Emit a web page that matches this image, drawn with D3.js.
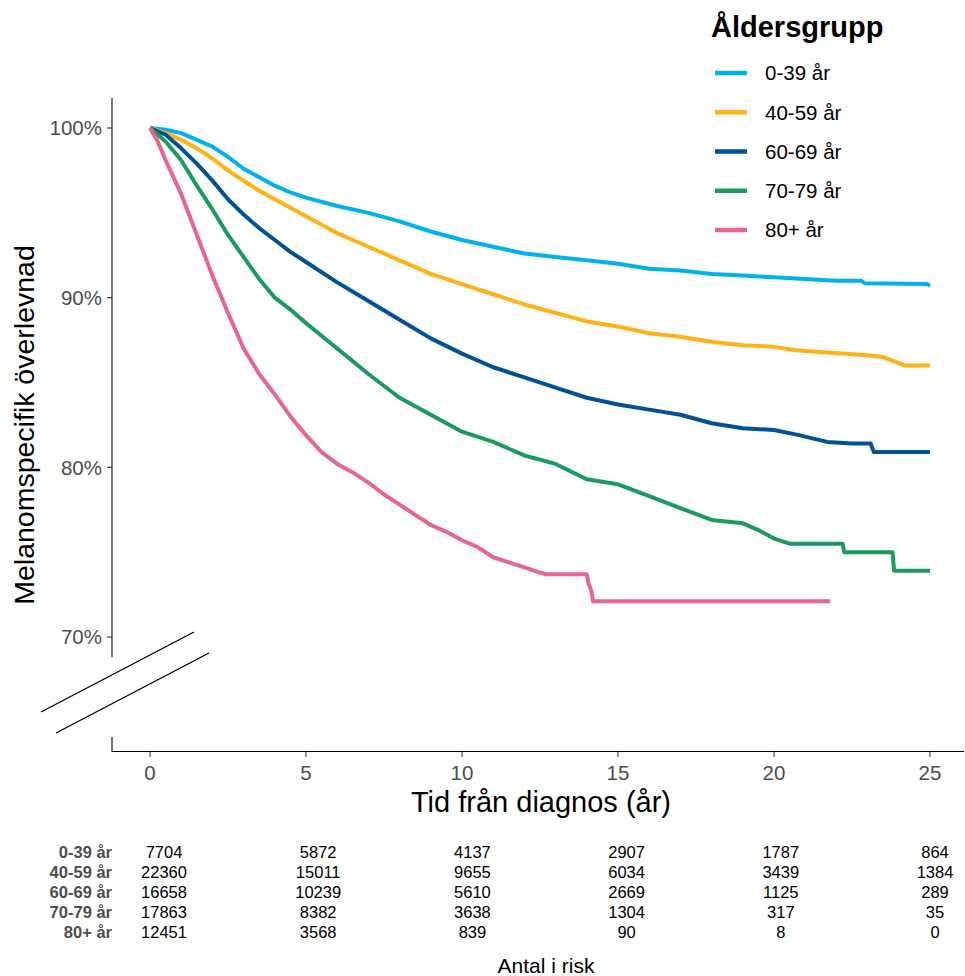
<!DOCTYPE html>
<html>
<head>
<meta charset="utf-8">
<script src="https://cdn.jsdelivr.net/npm/d3@7"></script>
<style>
  html, body { margin: 0; padding: 0; background: #fff; }
  svg { display: block; }
  text { font-family: "Liberation Sans", Arial, Helvetica, sans-serif; }
</style>
</head>
<body>
<svg id="chart" width="965" height="976"></svg>
<script>
// ---------------- DATA ----------------
const groups = ["0-39 år", "40-59 år", "60-69 år", "70-79 år", "80+ år"];
const colors = ["#00b1f0", "#ffb115", "#005195", "#1b9a5f", "#e8668a"];

const surv_0_39 = [[0,100],[0.5,99.9],[1,99.7],[1.5,99.3],[2,98.9],[2.5,98.3],[3,97.6],[3.5,97.1],[4,96.6],[4.5,96.2],[5,95.9],[6,95.4],[7,95.0],[8,94.5],[9,93.9],[10,93.4],[11,93.0],[12,92.6],[13,92.4],[14,92.2],[15,92.0],[16,91.7],[17,91.6],[18,91.4],[19,91.3],[20,91.2],[21,91.1],[22,91.0],[22.8,91.0],[22.9,90.85],[24.9,90.8],[25,90.7]];
const surv_40_59 = [[0,100],[0.5,99.7],[1,99.3],[1.5,98.8],[2,98.2],[2.5,97.5],[3,96.9],[3.5,96.3],[4,95.8],[4.5,95.3],[5,94.8],[6,93.8],[7,93.0],[8,92.2],[9,91.4],[10,90.8],[11,90.2],[12,89.6],[13,89.1],[14,88.6],[15,88.3],[16,87.9],[17,87.7],[18,87.4],[19,87.2],[20,87.1],[20.7,86.9],[21.5,86.8],[23,86.6],[23.5,86.5],[24.2,86.0],[25,86.0]];
const surv_60_69 = [[0,100],[0.5,99.6],[1,98.8],[1.5,97.9],[2,96.9],[2.5,95.8],[3,94.9],[3.5,94.1],[4,93.4],[4.5,92.7],[5,92.1],[6,90.9],[7,89.8],[8,88.7],[9,87.6],[10,86.7],[11,85.9],[12,85.3],[13,84.7],[14,84.1],[15,83.7],[16,83.4],[17,83.1],[18,82.6],[19,82.3],[20,82.2],[20.8,81.9],[21.7,81.5],[22.5,81.4],[23.1,81.4],[23.2,80.9],[25,80.9]];
const surv_70_79 = [[0,100],[0.5,99.2],[1,98.1],[1.5,96.6],[2,95.2],[2.5,93.7],[3,92.4],[3.5,91.1],[4,90.0],[4.5,89.3],[5,88.5],[6,87.0],[7,85.5],[8,84.1],[9,83.1],[10,82.1],[11,81.5],[12,80.7],[13,80.2],[14,79.3],[15,79.0],[16,78.3],[17,77.6],[18,76.9],[19,76.7],[19.5,76.3],[20,75.8],[20.5,75.5],[22.2,75.5],[22.25,75.0],[23.8,75.0],[23.85,73.9],[25,73.9]];
const surv_80 = [[0,100],[0.25,99.2],[0.5,98.1],[0.75,97.1],[1,96.1],[1.25,94.9],[1.5,93.7],[1.75,92.5],[2,91.3],[2.5,89.1],[3,87.0],[3.5,85.5],[4,84.3],[4.5,83.0],[5,81.9],[5.5,80.9],[6,80.2],[6.5,79.7],[7,79.1],[7.5,78.4],[8,77.8],[8.5,77.2],[9,76.6],[9.5,76.2],[10,75.7],[10.5,75.3],[11,74.7],[11.5,74.4],[12,74.1],[12.5,73.8],[12.7,73.7],[14.0,73.7],[14.05,73.2],[14.15,72.7],[14.2,72.1],[21.8,72.1]];
const seriesData = [surv_0_39, surv_40_59, surv_60_69, surv_70_79, surv_80];

const xTicks = [0, 5, 10, 15, 20, 25];
const yTicks = [70, 80, 90, 100];
const riskTimes = [0, 5, 10, 15, 20, 25];
const risk_0_39 = [7704, 5872, 4137, 2907, 1787, 864];
const risk_40_59 = [22360, 15011, 9655, 6034, 3439, 1384];
const risk_60_69 = [16658, 10239, 5610, 2669, 1125, 289];
const risk_70_79 = [17863, 8382, 3638, 1304, 317, 35];
const risk_80 = [12451, 3568, 839, 90, 8, 0];
const riskRows = [risk_0_39, risk_40_59, risk_60_69, risk_70_79, risk_80];

const legendTitle = "Åldersgrupp";
const xTitle = "Tid från diagnos (år)";
const yTitle = "Melanomspecifik överlevnad";
const tableTitle = "Antal i risk";

// ---------------- DRAW ----------------
const svg = d3.select("#chart");
const x = d3.scaleLinear().domain([0, 25]).range([150, 930]);
const y = d3.scaleLinear().domain([70, 100]).range([637, 128]);
const xt = d3.scaleLinear().domain([0, 25]).range([164, 935]);

const tickGrey = "#4d4d4d";

// y axis (upper segment)
svg.append("line").attr("x1", 112).attr("x2", 112).attr("y1", 98).attr("y2", 657)
  .attr("stroke", "#000").attr("stroke-width", 1.1);
// y axis lower stub
svg.append("line").attr("x1", 112).attr("x2", 112).attr("y1", 737).attr("y2", 752)
  .attr("stroke", "#000").attr("stroke-width", 1.1);

const yg = svg.append("g");
yTicks.forEach(v => {
  yg.append("line").attr("x1", 107).attr("x2", 112).attr("y1", y(v)).attr("y2", y(v))
    .attr("stroke", "#333").attr("stroke-width", 1.1);
  yg.append("text").attr("x", 102).attr("y", y(v)).attr("dy", "0.36em")
    .attr("text-anchor", "end").attr("fill", tickGrey).attr("font-size", 20.5)
    .text(v + "%");
});

// break marks
svg.append("line").attr("x1", 41).attr("y1", 712).attr("x2", 194).attr("y2", 632)
  .attr("stroke", "#000").attr("stroke-width", 1.3);
svg.append("line").attr("x1", 56).attr("y1", 733).attr("x2", 209).attr("y2", 653)
  .attr("stroke", "#000").attr("stroke-width", 1.3);

// x axis
svg.append("line").attr("x1", 112).attr("x2", 964).attr("y1", 751.5).attr("y2", 751.5)
  .attr("stroke", "#000").attr("stroke-width", 1.1);
xTicks.forEach(v => {
  svg.append("line").attr("x1", x(v)).attr("x2", x(v)).attr("y1", 751.5).attr("y2", 757)
    .attr("stroke", "#333").attr("stroke-width", 1.1);
  svg.append("text").attr("x", x(v)).attr("y", 780).attr("text-anchor", "middle")
    .attr("fill", tickGrey).attr("font-size", 20.5).text(v);
});

// axis titles
svg.append("text").attr("x", 541).attr("y", 812).attr("text-anchor", "middle")
  .attr("font-size", 29).attr("fill", "#000").text(xTitle);
svg.append("text").attr("transform", "translate(34,425) rotate(-90)")
  .attr("text-anchor", "middle").attr("font-size", 28.5).attr("fill", "#000").text(yTitle);

// curves
const line = d3.line().x(d => x(d[0])).y(d => y(d[1])).curve(d3.curveLinear);
seriesData.forEach((s, i) => {
  svg.append("path").datum(s).attr("d", line)
    .attr("fill", "none").attr("stroke", colors[i]).attr("stroke-width", 4)
    .attr("stroke-linejoin", "round").attr("stroke-linecap", "butt");
});

// legend
svg.append("text").attr("x", 711).attr("y", 37).attr("font-size", 29)
  .attr("font-weight", "bold").attr("fill", "#000").text(legendTitle);
const legY = d3.scalePoint().domain(groups).range([73, 230]);
groups.forEach((g, i) => {
  svg.append("line").attr("x1", 715).attr("x2", 747).attr("y1", legY(g)).attr("y2", legY(g))
    .attr("stroke", colors[i]).attr("stroke-width", 4.5);
  svg.append("text").attr("x", 765).attr("y", legY(g)).attr("dy", "0.36em")
    .attr("font-size", 20.5).attr("fill", "#000").text(g);
});

// risk table
const rowY = d3.scalePoint().domain(groups).range([852, 932]);
groups.forEach((g, i) => {
  svg.append("text").attr("x", 112).attr("y", rowY(g)).attr("dy", "0.36em")
    .attr("text-anchor", "end").attr("font-size", 16.5).attr("font-weight", "bold")
    .attr("fill", tickGrey).text(g);
  riskRows[i].forEach((n, j) => {
    svg.append("text").attr("x", xt(riskTimes[j])).attr("y", rowY(g)).attr("dy", "0.36em")
      .attr("text-anchor", "middle").attr("font-size", 16.5).attr("fill", "#000").text(n);
  });
});
svg.append("text").attr("x", 546).attr("y", 973).attr("text-anchor", "middle")
  .attr("font-size", 21).attr("fill", "#000").text(tableTitle);
</script>
</body>
</html>
